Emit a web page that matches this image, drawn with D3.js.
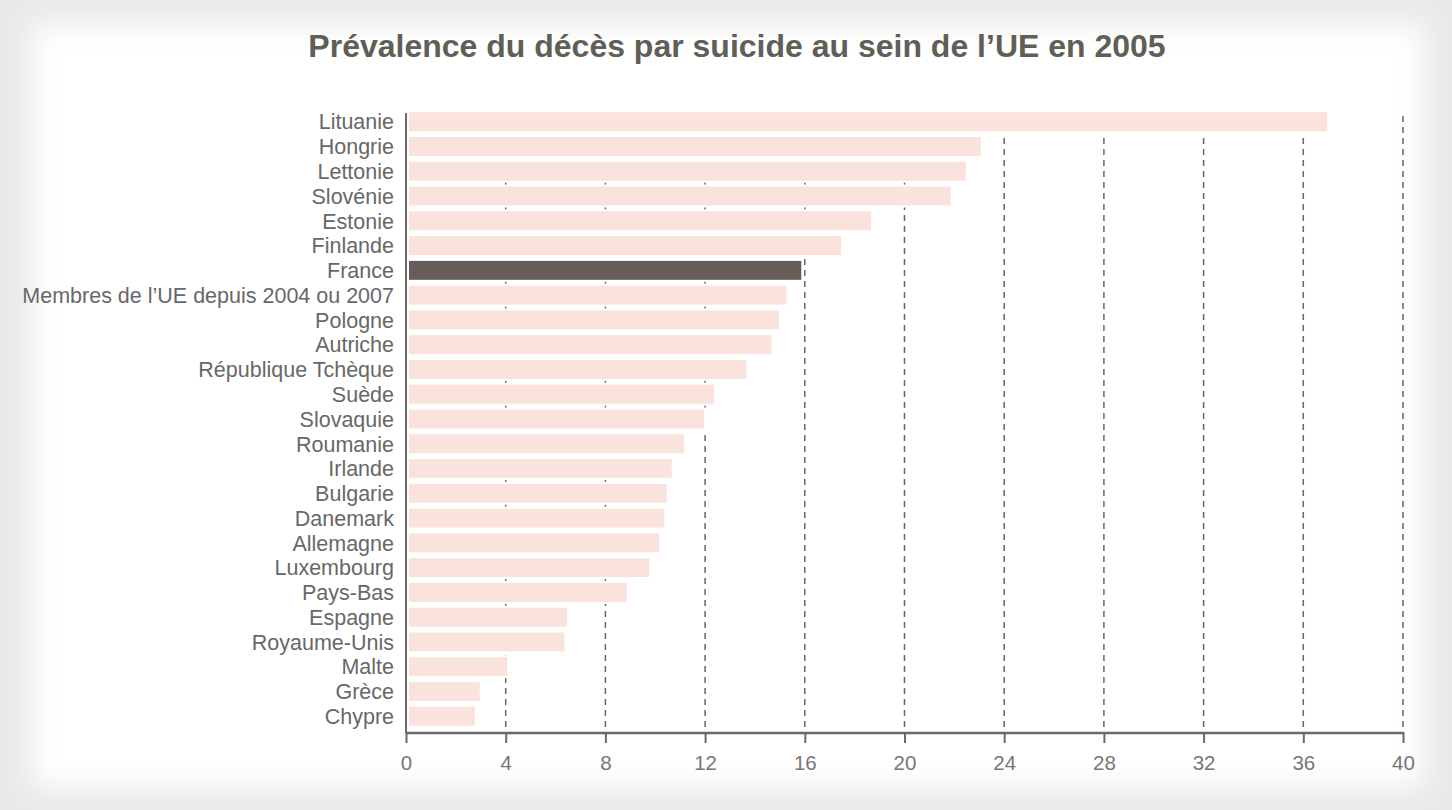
<!DOCTYPE html>
<html><head><meta charset="utf-8">
<script src="https://cdn.jsdelivr.net/npm/d3@7"></script>
<style>html,body{margin:0;padding:0;background:#fff;overflow:hidden}</style>
</head><body><svg id="c" width="1452" height="810"></svg>
<script>
const categories = ["Lituanie","Hongrie","Lettonie","Slovénie","Estonie","Finlande","France","Membres de l’UE depuis 2004 ou 2007","Pologne","Autriche","République Tchèque","Suède","Slovaquie","Roumanie","Irlande","Bulgarie","Danemark","Allemagne","Luxembourg","Pays-Bas","Espagne","Royaume-Unis","Malte","Grèce","Chypre"];
const values = [37.0,23.1,22.5,21.9,18.7,17.5,15.9,15.3,15.0,14.7,13.7,12.4,12.0,11.2,10.7,10.5,10.4,10.2,9.8,8.9,6.5,6.4,4.1,3.0,2.8];
const highlight = "France";
const xTicks = [0,4,8,12,16,20,24,28,32,36,40];
const title = "Prévalence du décès par suicide au sein de l’UE en 2005";

const svg = d3.select("#c");
const W = 1452, H = 810;
const FONT = "Liberation Sans, Arial, Helvetica, sans-serif";
const defs = svg.append("defs");
const f = defs.append("filter").attr("id","blur").attr("x","-10%").attr("y","-10%").attr("width","120%").attr("height","120%");
f.append("feGaussianBlur").attr("stdDeviation",14);
svg.append("rect").attr("width",W).attr("height",H).attr("fill","#e9e9e9");
svg.append("rect").attr("x",32).attr("y",24).attr("width",W-60).attr("height",H-46).attr("fill","#fff").attr("filter","url(#blur)");

const m = {left:406, right:1403, top:110, bottom:733};
const x = d3.scaleLinear().domain([0,40]).range([m.left, m.right]);
const y = d3.scaleBand().domain(categories).range([m.top, m.bottom-5]).paddingInner(0.155).paddingOuter(0.05);

svg.append("text").attr("x",737).attr("y",57).attr("text-anchor","middle")
  .attr("font-family",FONT).attr("font-weight","bold")
  .attr("font-size",32).attr("fill","#5f5f57").text(title);

// grid
svg.append("g").selectAll("line").data(xTicks.filter(t=>t>0)).join("line")
  .attr("x1",d=>x(d)).attr("x2",d=>x(d)).attr("y1",m.top+6).attr("y2",m.bottom)
  .attr("stroke","#666").attr("stroke-width",1.5).attr("stroke-dasharray","6,5");

// bars
svg.append("g").selectAll("rect").data(categories).join("rect")
  .attr("x",x(0)+2).attr("y",d=>y(d)).attr("height",y.bandwidth())
  .attr("width",(d,i)=>x(values[i])-x(0)-2)
  .attr("fill",d=>d===highlight?"#675e5a":"#f9e3dc")
  .attr("stroke","#fff").attr("stroke-width",2);

// y axis
const ya = svg.append("g").attr("transform",`translate(${m.left},0)`)
  .call(d3.axisLeft(y).tickSize(0).tickPadding(12));
ya.select(".domain").attr("stroke","#6a6a6a").attr("stroke-width",2).attr("d",`M0,${m.top+3}V${m.bottom}`);
ya.selectAll("text").attr("font-family",FONT).attr("font-size",21.5).attr("fill","#686868").attr("dy","0.36em");

// x axis
const xa = svg.append("g").attr("transform",`translate(0,${m.bottom})`)
  .call(d3.axisBottom(x).tickValues(xTicks).tickSize(10).tickSizeOuter(0).tickPadding(12));
xa.select(".domain").attr("stroke","#6a6a6a").attr("stroke-width",2.5).attr("d",`M${m.left},0H${m.right}`);
xa.selectAll(".tick line").attr("stroke","#6a6a6a").attr("stroke-width",2).attr("y1",-1);
xa.selectAll("text").attr("font-family",FONT).attr("font-size",20.5).attr("fill","#777");
</script></body></html>
